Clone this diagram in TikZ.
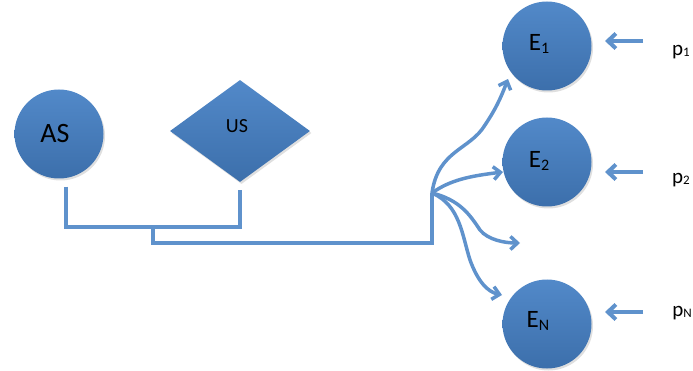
\documentclass[tikz,border=0pt]{standalone}
\usepackage{fontspec}
\setmainfont{Carlito}
\usetikzlibrary{shapes.geometric,arrows.meta,shadows}
\definecolor{fillblueT}{HTML}{5289C9}
\definecolor{fillblueB}{HTML}{3C6FAB}
\definecolor{lineblue}{HTML}{5F92CC}
\tikzset{
  blob/.style={circle, inner sep=0pt, minimum size=89pt, top color=fillblueT, bottom color=fillblueB,
    draw=none, drop shadow={opacity=0.25, shadow xshift=1.5pt, shadow yshift=-2pt}},
  rhomb/.style={diamond, inner sep=0pt, minimum width=140pt, minimum height=102pt, top color=fillblueT, bottom color=fillblueB,
    draw=none, drop shadow={opacity=0.25, shadow xshift=1.5pt, shadow yshift=-2pt}},
  conn/.style={draw=lineblue, line width=3.5pt, line join=miter},
  fan/.style={draw=lineblue, line width=3.5pt, -{Straight Barb[length=7pt,width=13pt,line width=3.5pt]}},
  pin/.style={draw=lineblue, line width=4.5pt, -{Straight Barb[length=8pt,width=15pt,line width=4pt]}},
  lbl/.style={text=black, inner sep=0pt},
  elbl/.style={lbl, font=\fontsize{25}{25}\selectfont},
  plbl/.style={lbl, font=\fontsize{21}{21}\selectfont},
}
\newcommand{\esub}[1]{\raisebox{-3pt}{\fontsize{16}{16}\selectfont #1}}
\newcommand{\psub}[1]{\raisebox{-1pt}{\fontsize{13}{13}\selectfont #1}}
\begin{document}
\begin{tikzpicture}[x=1pt,y=-1pt]
\useasboundingbox (0,0) rectangle (693,371);
\node[blob] (AS) at (59,134) {};
\node[lbl, font=\fontsize{28}{28}\selectfont] (ASt) at (55,134) {AS};
\node[rhomb] (US) at (240,131) {};
\node[lbl, font=\fontsize{20}{20}\selectfont] (USt) at (237,126) {US};
\node[blob] (E1) at (547,46) {};
\node[blob] (E2) at (547,162) {};
\node[blob] (EN) at (547,324) {};
\node[elbl] (E1t) at (539,44) {E\esub{1}};
\node[elbl] (E2t) at (539,161) {E\esub{2}};
\node[elbl] (ENt) at (538,321) {E\esub{N}};
\node[plbl] (p1) at (681,52) {p\psub{1}};
\node[plbl] (p2) at (681,180) {p\psub{2}};
\node[plbl] (pN) at (682,313) {p\psub{N}};
% connectors
\coordinate (j1) at (153,227);
\coordinate (j2) at (153,243);
\coordinate (fanpt) at (432,193);
\coordinate (mid) at (520,243);
\path[conn] ([xshift=7pt,yshift=-8pt]AS.south) |- (j1) -| ([yshift=-8pt]US.south);
\path[conn] (j1) -- (j2) -| (fanpt);
\path[fan] (fanpt) .. controls (438,150) and (470,150) .. (485,125) .. controls (495,110) and (500,100) .. ([xshift=-39pt,yshift=-33pt]E1.center);
\path[fan] (fanpt) .. controls (450,180) and (470,176) .. ([xshift=-44pt,yshift=-10pt]E2.center);
\path[fan] (fanpt) .. controls (460,200) and (470,215) .. (480,230) .. controls (488,240) and (505,243) .. (mid);
\path[fan] (fanpt) .. controls (460,205) and (462,235) .. (470,260) .. controls (478,282) and (488,292) .. ([xshift=-45pt,yshift=29pt]EN.center);
\path[pin] ([xshift=96pt,yshift=5pt]E1.center) -- ([xshift=58pt,yshift=5pt]E1.center);
\path[pin] ([xshift=96pt,yshift=-10pt]E2.center) -- ([xshift=58pt,yshift=-10pt]E2.center);
\path[pin] ([xshift=96pt,yshift=12pt]EN.center) -- ([xshift=58pt,yshift=12pt]EN.center);
\end{tikzpicture}
\end{document}
